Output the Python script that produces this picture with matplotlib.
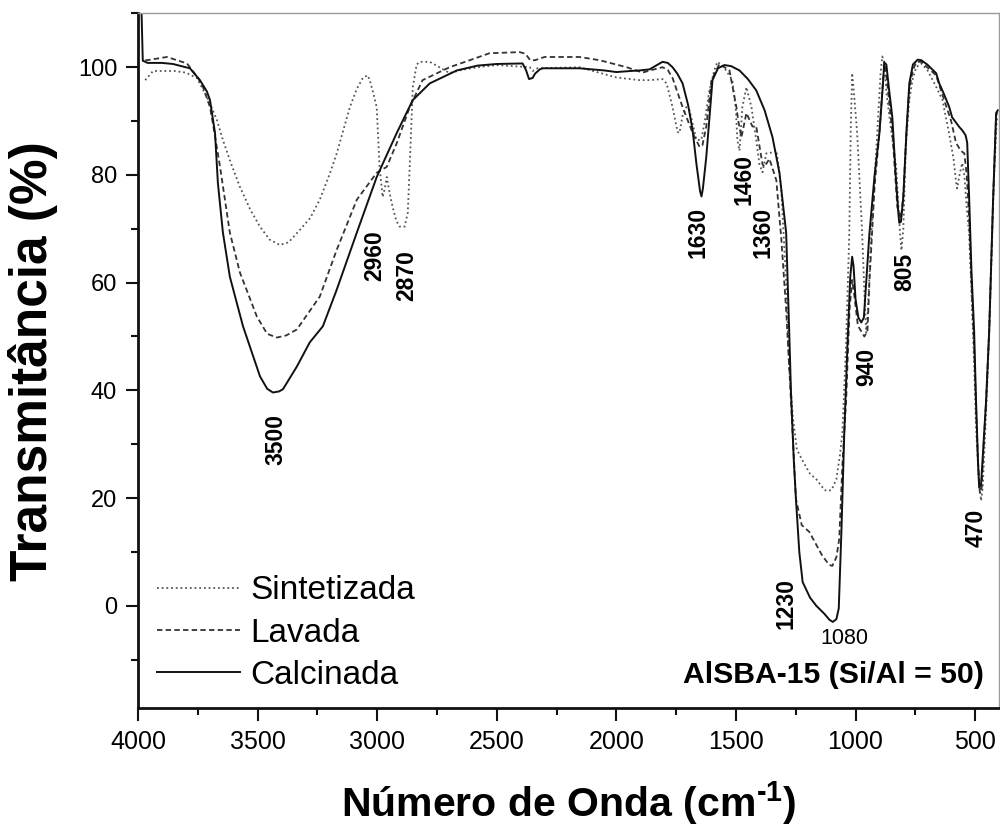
import numpy as np
import matplotlib
matplotlib.use("Agg")
import matplotlib.pyplot as plt
from matplotlib.ticker import MultipleLocator

plt.rcParams['font.family'] = ['Liberation Sans', 'DejaVu Sans']
plt.rcParams['mathtext.fontset'] = 'custom'
plt.rcParams['mathtext.rm'] = 'Liberation Sans'
plt.rcParams['mathtext.bf'] = 'Liberation Sans:bold'

# FTIR spectra, wavenumber (cm-1) vs transmittance (%)
sint_x = [3970, 3962, 3937, 3850, 3800, 3754, 3712, 3687, 3670, 3645, 3610, 3574, 3530, 3490,
          3450, 3407, 3370, 3323, 3280, 3240, 3200, 3169, 3140, 3114, 3085, 3060, 3040, 3031,
          3015, 3002, 2990, 2977, 2968, 2960, 2945, 2935, 2920, 2906, 2885, 2872, 2864, 2851,
          2835, 2822, 2780, 2740, 2697, 2647, 2580, 2500, 2362, 2350, 2330, 2154, 2000, 1903,
          1861, 1807, 1790, 1765, 1744, 1736, 1723, 1707, 1694, 1665, 1645, 1630, 1611, 1590,
          1577, 1550, 1515, 1500, 1494, 1485, 1473, 1456, 1435, 1415, 1402, 1389, 1373, 1360,
          1331, 1320, 1310, 1290, 1277, 1262, 1245, 1222, 1190, 1164, 1130, 1118, 1100, 1080,
          1065, 1055, 1040, 1026, 1020, 1014, 1008, 993, 972, 960, 955, 948, 934, 909, 895,
          888, 880, 870, 850, 830, 815, 808, 800, 790, 775, 760, 746, 725, 700, 670, 637, 610,
          590, 579, 575, 565, 554, 545, 535, 525, 515, 504, 496, 485, 475, 468, 460, 450, 438,
          422, 410, 405]
sint_y = [97.6, 98.0, 99.3, 99.3, 99.0, 98.0, 94.5, 92.0, 90.2, 86.5, 82.0, 77.8, 73.5, 70.4,
          68.0, 67.0, 67.5, 69.8, 72.0, 75.4, 80.0, 84.0, 88.5, 92.6, 96.0, 98.0, 98.5, 97.6,
          95.0, 92.6, 81.5, 75.9, 77.5, 79.6, 76.0, 74.0, 71.5, 70.4, 70.4, 73.0, 81.5, 96.3,
          100.5, 101.0, 101.0, 100.0, 98.9, 99.5, 100.0, 100.4, 100.0, 99.3, 99.8, 100.0, 98.1, 97.6,
          97.6, 97.8, 97.0, 92.6, 88.0, 87.8, 91.0, 92.6, 92.0, 86.5, 86.5, 90.0, 95.7, 99.5,
          101.0, 100.0, 97.6, 92.0, 86.5, 84.5, 92.6, 96.3, 92.6, 86.5, 82.0, 80.5, 84.0, 84.0,
          84.6, 81.0, 77.0, 60.0, 44.0, 35.0, 29.0, 27.0, 24.5, 23.5, 21.5, 21.3, 21.5, 23.5,
          28.0, 32.0, 48.0, 69.0, 88.0, 98.9, 96.0, 87.8, 69.0, 55.0, 50.7, 55.0, 69.0, 87.8, 99.0,
          102.0, 101.0, 95.0, 88.0, 81.5, 70.0, 66.0, 70.0, 85.0, 94.0, 98.0, 100.0, 100.7, 99.5, 97.0, 94.0, 88.0,
          83.0, 78.5, 77.5, 80.0, 82.2, 80.0, 74.0, 69.0, 58.0, 45.0, 33.0, 24.0, 19.5, 22.0, 30.0, 40.0, 55.0,
          78.0, 90.0, 91.0]

lav_x = [3970, 3962, 3879, 3795, 3749, 3728, 3699, 3687, 3657, 3616, 3574, 3503, 3460, 3420,
         3380, 3336, 3240, 3169, 3085, 3002, 2960, 2918, 2864, 2810, 2697, 2600, 2530, 2404,
         2380, 2360, 2340, 2300, 2154, 2070, 1957, 1891, 1850, 1807, 1785, 1765, 1723, 1681,
         1652, 1640, 1624, 1602, 1569, 1527, 1498, 1490, 1477, 1456, 1431, 1415, 1389, 1381,
         1360, 1331, 1310, 1290, 1272, 1249, 1225, 1193, 1139, 1110, 1097, 1080, 1068, 1055,
         1039, 1025, 1014, 1006, 990, 963, 950, 942, 920, 900, 885, 876, 865, 846, 825, 810,
         800, 787, 775, 760, 745, 725, 700, 663, 630, 600, 580, 560, 545, 535, 525, 515, 504,
         496, 488, 480, 473, 465, 454, 441, 425, 412, 405]
lav_y = [101.3, 101.3, 101.9, 100.7, 98.0, 96.3, 92.6, 89.6, 81.5, 69.3, 61.9, 53.7, 50.5, 49.8,
         50.2, 51.3, 57.4, 66.1, 75.4, 80.4, 81.5, 85.9, 92.6, 97.6, 100.0, 101.5, 102.6, 102.8,
         102.5, 101.3, 101.3, 101.9, 101.9, 101.3, 100.0, 99.0, 99.5, 100.0, 99.5, 98.0, 92.6, 87.8,
         85.2, 85.5, 89.0, 97.6, 100.6, 99.4, 92.6, 90.0, 87.0, 91.5, 89.0, 89.0, 82.0, 81.5,
         83.0, 79.0, 68.0, 55.0, 40.0, 19.8, 15.0, 13.7, 9.3, 7.6, 7.4, 9.0, 12.4, 25.9,
         38.3, 55.0, 60.5, 58.0, 52.0, 50.0, 51.0, 60.0, 78.0, 87.8, 97.5, 100.5, 96.0, 88.0, 74.0, 72.0,
         76.0, 88.0, 96.0, 99.5, 101.0, 101.0, 100.0, 98.5, 94.0, 90.0, 86.0, 84.5, 84.0, 80.0, 72.0, 60.0, 48.0,
         37.0, 27.0, 21.0, 21.5, 29.0, 38.0, 51.0, 75.0, 91.0, 92.0]

calc_x = [4000, 3988, 3980, 3960, 3900, 3854, 3783, 3741, 3712, 3699, 3678, 3666, 3645, 3616,
          3561, 3490, 3460, 3436, 3410, 3394, 3336, 3282, 3227, 3169, 3085, 3002, 2918, 2851,
          2780, 2667, 2580, 2500, 2392, 2378, 2365, 2350, 2340, 2320, 2308, 2154, 2050, 2000,
          1940, 1903, 1861, 1830, 1807, 1785, 1765, 1745, 1723, 1700, 1681, 1665, 1650, 1644,
          1638, 1624, 1610, 1598, 1575, 1548, 1520, 1485, 1450, 1415, 1380, 1347, 1318, 1290,
          1277, 1270, 1258, 1249, 1235, 1221, 1190, 1164, 1130, 1109, 1095, 1080, 1070, 1059,
          1047, 1034, 1022, 1014, 1008, 1000, 988, 976, 965, 942, 920, 900, 885, 880, 871, 860,
          846, 832, 821, 817, 810, 800, 787, 775, 760, 740, 725, 700, 663, 650, 630, 608, 596,
          566, 554, 540, 533, 525, 515, 504, 496, 488, 483, 475, 465, 454, 441, 425, 412, 405]
calc_y = [115.0, 115.0, 101.2, 100.8, 100.8, 100.6, 99.8, 97.6, 95.5, 93.9, 87.8, 78.5, 69.3, 61.1,
          51.9, 42.6, 40.3, 39.6, 39.8, 40.2, 44.4, 48.9, 51.9, 58.7, 69.3, 79.6, 87.8, 93.9,
          97.0, 99.4, 100.3, 100.6, 100.7, 99.5, 97.8, 98.0, 98.8, 99.6, 99.8, 99.8, 99.4, 99.1,
          99.3, 99.4, 99.6, 100.4, 101.0, 100.8, 100.0, 98.8, 97.0, 93.0, 88.3, 82.0, 77.0, 76.0,
          77.5, 83.3, 91.0, 97.6, 99.8, 100.4, 100.2, 99.4, 97.8, 95.7, 92.0, 87.0, 80.4, 69.3,
          50.7, 40.0, 27.0, 19.8, 10.0, 4.4, 1.5, 0.0, -1.5, -2.6, -3.0, -2.5, -0.5, 13.7,
          32.0, 48.0, 61.0, 64.8, 63.0, 57.0, 53.5, 52.6, 53.5, 69.0, 80.0, 87.8, 97.0, 100.9, 100.5, 96.0,
          90.7, 80.0, 73.0, 71.1, 71.3, 76.0, 88.0, 97.0, 100.5, 101.4, 101.3, 100.5, 98.9, 97.0, 95.0, 92.6, 90.7,
          88.9, 88.3, 87.4, 86.0, 76.0, 62.0, 51.0, 38.0, 27.0, 22.0, 22.5, 30.0, 38.0, 51.0, 75.0, 91.5, 92.0]

series_names = ['Sintetizada', 'Lavada', 'Calcinada']

fig = plt.figure(figsize=(10, 8.35), dpi=100)
ax = fig.add_axes([0.138, 0.152, 0.861, 0.832])

ax.plot(sint_x, sint_y, color='#555555', lw=1.3, linestyle=(0, (1, 1.6)), label=series_names[0])
ax.plot(lav_x, lav_y, color='#333333', lw=1.3, linestyle=(0, (3, 1.8)), label=series_names[1])
ax.plot(calc_x, calc_y, color='#111111', lw=1.4, linestyle='-', label=series_names[2])

ax.set_xlim(4000, 400)
ax.set_ylim(-19, 110)
ax.xaxis.set_major_locator(MultipleLocator(500))
ax.xaxis.set_minor_locator(MultipleLocator(250))
ax.yaxis.set_major_locator(MultipleLocator(20))
ax.yaxis.set_minor_locator(MultipleLocator(10))
ax.tick_params(which='major', direction='out', length=9, width=1.5, color='#111111')
ax.tick_params(which='minor', direction='out', length=5, width=1.5, color='#111111')
ax.tick_params(axis='x', which='both', top=False, labelsize=18, pad=7)
ax.tick_params(axis='y', which='both', right=False, labelsize=17, pad=6)

for side in ('left', 'bottom'):
    ax.spines[side].set_linewidth(2)
    ax.spines[side].set_color('#111111')
for side in ('top', 'right'):
    ax.spines[side].set_linewidth(1)
    ax.spines[side].set_color('#9a9a9a')

ax.set_xlabel('Número de Onda (cm$^{\\mathbf{‐1}}$)', fontsize=29.5, fontweight='bold', labelpad=18)
ax.set_ylabel('Transmitância (%)', fontsize=37, fontweight='bold', labelpad=14)

# band assignments
bands = [('3500', 3424, 30.9), ('2960', 3010, 65.0), ('2870', 2876, 61.3),
         ('1630', 1657, 69.3), ('1460', 1465, 79.1), ('1360', 1387, 69.4),
         ('1230', 1289, 0.4), ('940', 955, 44.4), ('805', 792, 62.0), ('470', 495, 14.4)]
for txt, bx, by in bands:
    ax.text(bx, by, txt, rotation=90, fontsize=16.5, fontweight='bold',
            ha='center', va='center')
ax.text(1047, -6.1, '1080', fontsize=15.5, ha='center', va='center')

ax.text(462, -12.8, 'AlSBA-15 (Si/Al = 50)', fontsize=21.7, fontweight='bold',
        ha='right', va='center')

leg = ax.legend(loc='lower left', bbox_to_anchor=(0.014, 0.015), frameon=False,
                fontsize=24, handlelength=2.5, handletextpad=0.3, labelspacing=0.34,
                borderpad=0.2, borderaxespad=0)

fig.savefig('out.png', dpi=100)
